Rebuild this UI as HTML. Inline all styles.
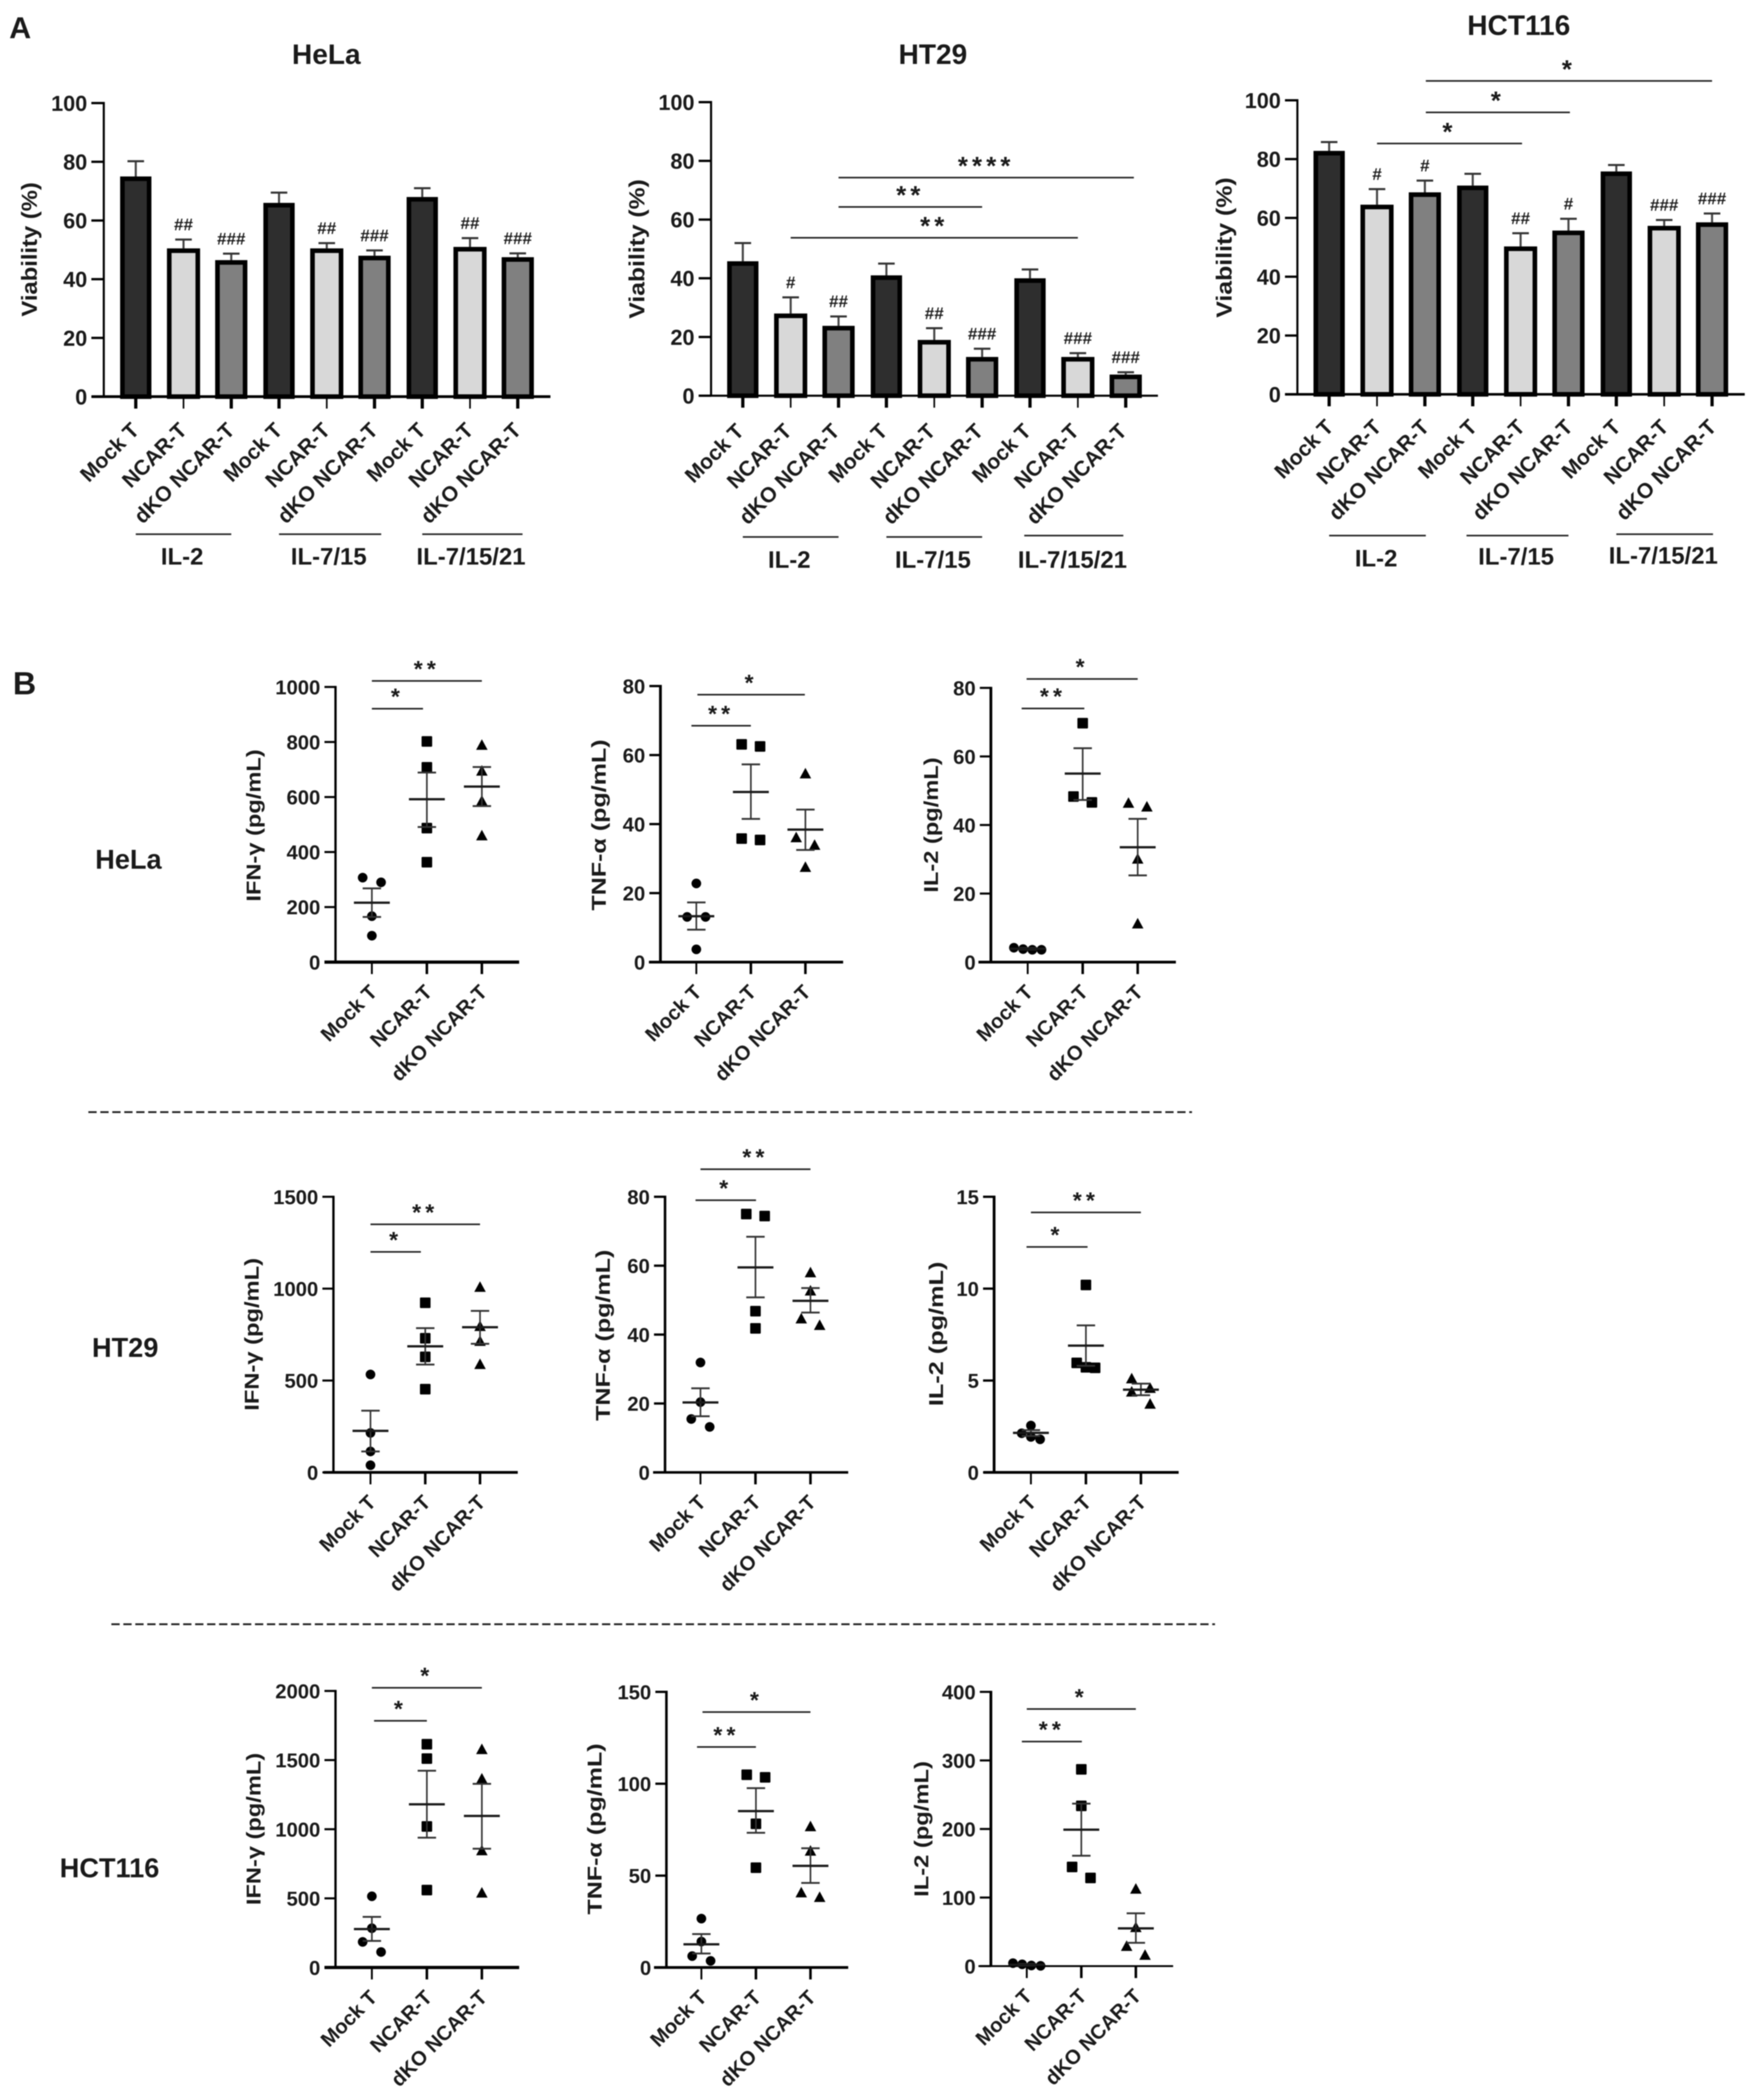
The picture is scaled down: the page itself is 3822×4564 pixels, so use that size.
<!DOCTYPE html>
<html lang="en">
<head>
<meta charset="utf-8">
<title>Viability and cytokine release of NCAR-T cells</title>
<style>
html,body{margin:0;padding:0;background:#fff;width:3822px;height:4564px;overflow:hidden}
svg{display:block;filter:blur(1px)}
text{font-family:"Liberation Sans",sans-serif;font-weight:bold;fill:#1a1a1a}
</style>
</head>
<body>
<svg id="figure" xmlns="http://www.w3.org/2000/svg" width="3822" height="4564" viewBox="0 0 3822 4564">
<rect width="3822" height="4564" fill="#fff"/>
<text x="20" y="83" font-size="66" fill="#000">A</text>
<text x="28" y="1509" font-size="70" fill="#000">B</text>
<text x="279" y="1888" font-size="59" text-anchor="middle">HeLa</text>
<text x="272" y="2949" font-size="59" text-anchor="middle">HT29</text>
<text x="238" y="4080" font-size="59" text-anchor="middle">HCT116</text>
<line x1="192" y1="2417" x2="2590" y2="2417" stroke="#222" stroke-width="4" stroke-dasharray="18 8"/>
<line x1="242" y1="3530" x2="2640" y2="3530" stroke="#222" stroke-width="4" stroke-dasharray="18 8"/>
</svg>
<script>
/* ---------- shared categories and ticks ---------- */
const barCategories = ['Mock T','NCAR-T','dKO NCAR-T','Mock T','NCAR-T','dKO NCAR-T','Mock T','NCAR-T','dKO NCAR-T'];
const scatterCategories = ['Mock T','NCAR-T','dKO NCAR-T'];
const cytokineGroups = ['IL-2','IL-7/15','IL-7/15/21'];
const viabilityTicks = [0,20,40,60,80,100];

/* ---------- panel A : viability ---------- */
const helaViability = [75,50.5,46.5,66,50.5,48,68,51,47.5];
const helaViabilityTop = [80.2,53.5,48.7,69.5,52.3,49.8,71,54,48.8];
const helaHash = ['','##','###','','##','###','','##','###'];
const helaGroupStart = [0,3,6];
const helaGroupEnd = [2,5.14,8.1];

const ht29Viability = [45.8,28,23.8,41,19,13.2,40,13.2,7.2];
const ht29ViabilityTop = [52,33.5,27,45,23,16,43,14.5,8];
const ht29Hash = ['','#','##','','##','###','','###','###'];
const ht29GroupStart = [0,3,5.88];
const ht29GroupEnd = [2,5,7.95];
const ht29BracketFrom = [2,2,1];
const ht29BracketTo = [8.17,5,7];
const ht29BracketLevel = [74.3,64.3,53.8];
const ht29BracketLabel = ['****','**','**'];

const hctViability = [82.8,64.5,68.7,71,50.3,55.7,75.8,57.3,58.5];
const hctViabilityTop = [85.8,69.8,72.7,75,54.8,59.7,78,59.3,61.5];
const hctHash = ['','#','#','','##','#','','###','###'];
const hctGroupStart = [0,2.87,6];
const hctGroupEnd = [2.02,5,8.02];
const hctBracketFrom = [2.02,2.02,1];
const hctBracketTo = [8,5.03,4.03];
const hctBracketLevel = [106.6,95.9,85.3];
const hctBracketLabel = ['*','*','*'];

/* ---------- panel B : HeLa row ---------- */
const helaIfnTicks = [0,200,400,600,800,1000];
const helaIfnMock = [307,290,167,96];
const helaIfnNcar = [802,708,487,363];
const helaIfnDko = [790,696,587,461];
const helaIfnMockSlots = [-1,1,0,0];
const helaIfnNcarSlots = [0,0,0,0];
const helaIfnDkoSlots = [0,0,0,0];
const helaIfnMean = [216,592,638];
const helaIfnSemHi = [268,689,709];
const helaIfnSemLo = [164,491,567];
const helaIfnBracketFrom = [0,0];
const helaIfnBracketTo = [2,0.93];
const helaIfnBracketLevel = [1022,921];
const helaIfnBracketLabel = ['**','*'];

const helaTnfTicks = [0,20,40,60,80];
const helaTnfMock = [22.8,13.1,13.1,3.7];
const helaTnfNcar = [63.1,62.5,35.8,35.4];
const helaTnfDko = [54.7,36.2,34,27.6];
const helaTnfMockSlots = [0,-1,1,0];
const helaTnfNcarSlots = [-1,1,-1,1];
const helaTnfDkoSlots = [0,-1,1,0];
const helaTnfMean = [13.3,49.3,38.4];
const helaTnfSemHi = [17.3,57.3,44.2];
const helaTnfSemLo = [9.4,41.5,32.5];
const helaTnfBracketFrom = [0.02,-0.09];
const helaTnfBracketTo = [1.99,1];
const helaTnfBracketLevel = [77.5,68.5];
const helaTnfBracketLabel = ['*','**'];

const helaIl2Ticks = [0,20,40,60,80];
const helaIl2Mock = [4.2,3.8,3.6,3.6];
const helaIl2Ncar = [69.7,48.3,46.6];
const helaIl2Dko = [46.5,45.4,30.2,11.3];
const helaIl2MockSlots = [-1.5,-0.5,0.5,1.5];
const helaIl2NcarSlots = [0,-1,1];
const helaIl2DkoSlots = [-1,1,0,0];
const helaIl2Mean = [3.9,55,33.5];
const helaIl2SemHi = [4.1,62.4,41.8];
const helaIl2SemLo = [3.7,47.3,25.3];
const helaIl2BracketFrom = [-0.02,-0.11];
const helaIl2BracketTo = [2,1.03];
const helaIl2BracketLevel = [82.6,74];
const helaIl2BracketLabel = ['*','**'];

/* ---------- panel B : HT29 row ---------- */
const ht29IfnTicks = [0,500,1000,1500];
const ht29IfnMock = [533,215,114,39];
const ht29IfnNcar = [923,730,629,453];
const ht29IfnDko = [1010,797,716,590];
const ht29IfnMockSlots = [0,0,0,0];
const ht29IfnNcarSlots = [0,0,0,0];
const ht29IfnDkoSlots = [0,0,0,0];
const ht29IfnMean = [226,686,790];
const ht29IfnSemHi = [336,785,879];
const ht29IfnSemLo = [114,587,700];
const ht29IfnBracketFrom = [0,0];
const ht29IfnBracketTo = [2,0.92];
const ht29IfnBracketLevel = [1350,1200];
const ht29IfnBracketLabel = ['**','*'];

const ht29TnfTicks = [0,20,40,60,80];
const ht29TnfMock = [31.9,20.4,15.5,13.2];
const ht29TnfNcar = [75,74.4,46.8,41.8];
const ht29TnfDko = [58.1,52.8,44.7,42.8];
const ht29TnfMockSlots = [0,0,-1,1];
const ht29TnfNcarSlots = [-1,1,0,0];
const ht29TnfDkoSlots = [0,0,-1,1];
const ht29TnfMean = [20.3,59.5,49.8];
const ht29TnfSemHi = [24.4,68.4,53.5];
const ht29TnfSemLo = [16.3,50.8,46.4];
const ht29TnfBracketFrom = [0,-0.09];
const ht29TnfBracketTo = [2,1.01];
const ht29TnfBracketLevel = [88,79];
const ht29TnfBracketLabel = ['**','*'];

const ht29Il2Ticks = [0,5,10,15];
const ht29Il2Mock = [2.55,2.13,1.93,1.8];
const ht29Il2Ncar = [10.2,5.96,5.72,5.69];
const ht29Il2Dko = [5.12,4.6,4.4,3.74];
const ht29Il2MockSlots = [0,-1,0,1];
const ht29Il2NcarSlots = [0,-1,0,1];
const ht29Il2DkoSlots = [-1,1,-1,1];
const ht29Il2Mean = [2.15,6.9,4.5];
const ht29Il2SemHi = [2.3,8,4.83];
const ht29Il2SemLo = [1.98,5.8,4.2];
const ht29Il2BracketFrom = [0,-0.08];
const ht29Il2BracketTo = [2,1.03];
const ht29Il2BracketLevel = [14.15,12.27];
const ht29Il2BracketLabel = ['**','*'];

/* ---------- panel B : HCT116 row ---------- */
const hctIfnTicks = [0,500,1000,1500,2000];
const hctIfnMock = [515,284,185,112];
const hctIfnNcar = [1615,1511,1020,560];
const hctIfnDko = [1580,1367,848,542];
const hctIfnMockSlots = [0,0,-1,1];
const hctIfnNcarSlots = [0,0,0,0];
const hctIfnDkoSlots = [0,0,0,0];
const hctIfnMean = [278,1180,1096];
const hctIfnSemHi = [366,1423,1328];
const hctIfnSemLo = [192,939,859];
const hctIfnBracketFrom = [0,0.04];
const hctIfnBracketTo = [2,1];
const hctIfnBracketLevel = [2023,1784];
const hctIfnBracketLabel = ['*','*'];

const hctTnfTicks = [0,50,100,150];
const hctTnfMock = [26.6,14.1,6.2,3.6];
const hctTnfNcar = [104.9,103.5,78.2,54.3];
const hctTnfDko = [76.9,63.6,40.9,38.4];
const hctTnfMockSlots = [0,0,-1,1];
const hctTnfNcarSlots = [-1,1,0,0];
const hctTnfDkoSlots = [0,0,-1,1];
const hctTnfMean = [12.6,85.1,55.3];
const hctTnfSemHi = [18.2,97.6,64.9];
const hctTnfSemLo = [7.6,73.3,46];
const hctTnfBracketFrom = [0.02,-0.08];
const hctTnfBracketTo = [2,1];
const hctTnfBracketLevel = [139,120];
const hctTnfBracketLabel = ['*','**'];

const hctIl2Ticks = [0,100,200,300,400];
const hctIl2Mock = [4.3,2.6,0.9,0.4];
const hctIl2Ncar = [287,233.7,144.6,128.6];
const hctIl2Dko = [113,57,29.5,16.5];
const hctIl2MockSlots = [-1.5,-0.5,0.5,1.5];
const hctIl2NcarSlots = [0,0,-1,1];
const hctIl2DkoSlots = [0,0,-1,1];
const hctIl2Mean = [2,199,55];
const hctIl2SemHi = [3,237,77];
const hctIl2SemLo = [1,161,34];
const hctIl2BracketFrom = [0,-0.09];
const hctIl2BracketTo = [2,1.01];
const hctIl2BracketLevel = [375,327.5];
const hctIl2BracketLabel = ['*','**'];

/* ---------- drawing helpers ---------- */
const NS = 'http://www.w3.org/2000/svg';
const root = document.getElementById('figure');
const barFills = ['#2e2e2e','#d8d8d8','#808080'];

function mk(parent, tag, attrs, txt) {
  const el = document.createElementNS(NS, tag);
  for (const k in attrs) el.setAttribute(k, attrs[k]);
  if (txt !== undefined) el.textContent = txt;
  parent.appendChild(el);
  return el;
}

function drawYAxis(g, f, yScale, ticks, tickLen, fontSize) {
  const axis = mk(g, 'line', {x1:f.axisX, x2:f.axisX, y1:yScale(f.yMax)-f.tickW/2, y2:f.y0, stroke:'#000','stroke-width':f.yW});
  
  
  ticks.forEach(function (t) {
    const tick = mk(g, 'line', {x1:f.axisX-tickLen, x2:f.axisX, y1:yScale(t), y2:yScale(t), stroke:'#000','stroke-width':f.tickW});
    
    
    const lab = mk(g, 'text', {x:f.axisX-tickLen-9, y:yScale(t)+fontSize*0.36, 'text-anchor':'end','font-size':fontSize}, String(t));
    
    
  });
  const xAxis = mk(g, 'line', {x1:f.xStart, x2:f.xEnd, y1:f.y0, y2:f.y0, stroke:'#000','stroke-width':f.xW});
  
  
  const title = mk(g, 'text', {x:f.labelX, y:f.labelY, 'text-anchor':'middle','font-size':fontSize, textLength:f.labelLen, lengthAdjust:'spacingAndGlyphs', transform:'rotate(-90 '+f.labelX+' '+f.labelY+')'}, f.label);
  
  
}

function drawBrackets(g, xScale, yScale, from, to, level, labels, fontSize, gap) {
  labels.forEach(function (s, i) {
    const y = yScale(level[i]);
    const x1 = xScale(from[i]);
    const x2 = xScale(to[i]);
    const line = mk(g, 'line', {x1:x1, x2:x2, y1:y, y2:y, stroke:'#222','stroke-width':3.5});
    
    
    const star = mk(g, 'text', {x:(x1+x2)/2, y:y-gap+fontSize*0.58, 'text-anchor':'middle','font-size':fontSize,'letter-spacing':9, fill:'#2a2a2a'}, s);
    
    
  });
}

function barChart(f, values, tops, hash, gStart, gEnd, bFrom, bTo, bLevel, bLabel) {
  const g = mk(root, 'g', {});
  
  
  const xScale = function (i) { return f.firstX + i*f.step; };
  const yScale = function (v) { return f.y0 - (f.y0-f.yTop)*v/f.yMax; };

  values.forEach(function (v, i) {
    const x = xScale(i);
    const w = i%3===0 ? 58 : i%3===1 ? 62 : 60;
    const stem = mk(g, 'line', {x1:x, x2:x, y1:yScale(v), y2:yScale(tops[i]), stroke:'#444','stroke-width':4.5});
    
    
    const cap = mk(g, 'line', {x1:x-18, x2:x+18, y1:yScale(tops[i]), y2:yScale(tops[i]), stroke:'#333','stroke-width':4.5});
    
    
    const bar = mk(g, 'rect', {x:x-w/2, y:yScale(v)+5, width:w, height:f.y0-yScale(v)-5, fill:barFills[i%3], stroke:'#000','stroke-width':10});
    
    
    const tick = mk(g, 'line', {x1:x, x2:x, y1:f.y0, y2:f.y0+26, stroke:'#000','stroke-width':i%3===1?3.5:7});
    
    
    const ax = x+f.catDx, ay = f.y0+f.catDy;
    const lab = mk(g, 'text', {x:ax, y:ay, 'text-anchor':'end','font-size':46, transform:'rotate(-45 '+ax+' '+ay+')'}, barCategories[i]);
    
    
    if (hash[i]) {
      const h = mk(g, 'text', {x:x, y:yScale(tops[i])-33+13, 'text-anchor':'middle','font-size':37, fill:'#3a3a3a'}, hash[i]);
      
      
    }
  });
  drawYAxis(g, f, yScale, viabilityTicks, 27, 47);
  cytokineGroups.forEach(function (name, i) {
    const x1 = xScale(gStart[i]);
    const x2 = xScale(gEnd[i]);
    const l = mk(g, 'line', {x1:x1, x2:x2, y1:f.groupY[i], y2:f.groupY[i], stroke:'#222','stroke-width':3.5});
    
    
    const t = mk(g, 'text', {x:(x1+x2)/2-3, y:f.groupLabelY[i], 'text-anchor':'middle','font-size':52}, name);
    
    
  });
  const title = mk(g, 'text', {x:f.titleX, y:f.titleY, 'text-anchor':'middle','font-size':61}, f.title);
  
  
  if (bLabel) drawBrackets(g, xScale, yScale, bFrom, bTo, bLevel, bLabel, 56, 39);
}

function marker(g, shape, x, y) {
  let el;
  if (shape === 0) el = mk(g, 'circle', {cx:x, cy:y, r:10.5, fill:'#000'});
  else if (shape === 1) el = mk(g, 'rect', {x:x-11.5, y:y-11.5, width:23, height:23, rx:2, fill:'#000'});
  else el = mk(g, 'polygon', {points:(x-12.5)+','+(y+11)+' '+(x+12.5)+','+(y+11)+' '+x+','+(y-12), fill:'#000'});
  return el;
}

function scatterChart(f, ticks, groups, slots, mean, hi, lo, bFrom, bTo, bLevel, bLabel) {
  const g = mk(root, 'g', {});
  
  
  const xScale = function (i) { return f.firstX + i*f.step; };
  const yScale = function (v) { return f.y0 - (f.y0-f.yTop)*v/f.yMax; };
  drawYAxis(g, f, yScale, ticks, 24, 44);
  scatterCategories.forEach(function (c, i) {
    const x = xScale(i);
    const tick = mk(g, 'line', {x1:x, x2:x, y1:f.y0, y2:f.y0+26, stroke:'#000','stroke-width':i===0?4:5.5});
    
    
    const ax = x+14, ay = f.y0+68;
    const lab = mk(g, 'text', {x:ax, y:ay, 'text-anchor':'end','font-size':44, transform:'rotate(-45 '+ax+' '+ay+')'}, c);
    
    
    groups[i].forEach(function (v, j) {
      const pt = marker(g, i, x + slots[i][j]*20, yScale(v));
      
      
    });
    const stem = mk(g, 'line', {x1:x, x2:x, y1:yScale(hi[i]), y2:yScale(lo[i]), stroke:'#333','stroke-width':3.5});
    
    
    const capHi = mk(g, 'line', {x1:x-20, x2:x+20, y1:yScale(hi[i]), y2:yScale(hi[i]), stroke:'#333','stroke-width':4});
    
    
    const capLo = mk(g, 'line', {x1:x-20, x2:x+20, y1:yScale(lo[i]), y2:yScale(lo[i]), stroke:'#333','stroke-width':4});
    
    
    const m = mk(g, 'line', {x1:x-39, x2:x+39, y1:yScale(mean[i]), y2:yScale(mean[i]), stroke:'#1a1a1a','stroke-width':5});
    
    
  });
  drawBrackets(g, xScale, yScale, bFrom, bTo, bLevel, bLabel, 50, 38);
}

/* ---------- panel A ---------- */
barChart({name:'hela-viability-chart',title:'HeLa',titleX:709,titleY:139,axisX:225.5,xStart:199,xEnd:1196,y0:862,yTop:224,yMax:100,firstX:295,step:103.75,catDx:10,catDy:76,yW:4.5,xW:6,tickW:5,label:'Viability (%)',labelX:80,labelY:542,labelLen:292,groupY:[1161,1161,1161],groupLabelY:[1227,1227,1227]},
  helaViability, helaViabilityTop, helaHash, helaGroupStart, helaGroupEnd);
barChart({name:'ht29-viability-chart',title:'HT29',titleX:2027,titleY:139,axisX:1545,xStart:1519,xEnd:2516,y0:860,yTop:222,yMax:100,firstX:1614,step:104,catDx:5,catDy:80,yW:4.5,xW:4.5,tickW:5,label:'Viability (%)',labelX:1400,labelY:541,labelLen:303,groupY:[1167,1167,1164],groupLabelY:[1234,1234,1234]},
  ht29Viability, ht29ViabilityTop, ht29Hash, ht29GroupStart, ht29GroupEnd, ht29BracketFrom, ht29BracketTo, ht29BracketLevel, ht29BracketLabel);
barChart({name:'hct116-viability-chart',title:'HCT116',titleX:3300,titleY:76,axisX:2819,xStart:2792,xEnd:3791,y0:857,yTop:218,yMax:100,firstX:2888,step:104,catDx:12,catDy:74,yW:4.5,xW:5.5,tickW:5,label:'Viability (%)',labelX:2676,labelY:538,labelLen:305,groupY:[1164,1164,1161],groupLabelY:[1231,1227,1225]},
  hctViability, hctViabilityTop, hctHash, hctGroupStart, hctGroupEnd, hctBracketFrom, hctBracketTo, hctBracketLevel, hctBracketLabel);

/* ---------- panel B ---------- */
scatterChart({name:'hela-ifn-chart',axisX:729,xStart:705,xEnd:1128,y0:2091,yTop:1493,yMax:1000,firstX:808,step:119.5,yW:5,xW:7,tickW:4.5,label:'IFN-γ (pg/mL)',labelX:566,labelY:1794,labelLen:331},
  helaIfnTicks,[helaIfnMock,helaIfnNcar,helaIfnDko],[helaIfnMockSlots,helaIfnNcarSlots,helaIfnDkoSlots],helaIfnMean,helaIfnSemHi,helaIfnSemLo,helaIfnBracketFrom,helaIfnBracketTo,helaIfnBracketLevel,helaIfnBracketLabel);
scatterChart({name:'hela-tnf-chart',axisX:1435,xStart:1410,xEnd:1832,y0:2091,yTop:1491,yMax:80,firstX:1513,step:118.5,yW:6,xW:6,tickW:5,label:'TNF-α (pg/mL)',labelX:1316,labelY:1793,labelLen:372},
  helaTnfTicks,[helaTnfMock,helaTnfNcar,helaTnfDko],[helaTnfMockSlots,helaTnfNcarSlots,helaTnfDkoSlots],helaTnfMean,helaTnfSemHi,helaTnfSemLo,helaTnfBracketFrom,helaTnfBracketTo,helaTnfBracketLevel,helaTnfBracketLabel);
scatterChart({name:'hela-il2-chart',axisX:2153,xStart:2126,xEnd:2555,y0:2091,yTop:1495,yMax:80,firstX:2233,step:119.5,yW:6,xW:6,tickW:4.5,label:'IL-2 (pg/mL)',labelX:2038,labelY:1793,labelLen:294},
  helaIl2Ticks,[helaIl2Mock,helaIl2Ncar,helaIl2Dko],[helaIl2MockSlots,helaIl2NcarSlots,helaIl2DkoSlots],helaIl2Mean,helaIl2SemHi,helaIl2SemLo,helaIl2BracketFrom,helaIl2BracketTo,helaIl2BracketLevel,helaIl2BracketLabel);

scatterChart({name:'ht29-ifn-chart',axisX:724.5,xStart:703,xEnd:1125,y0:3200,yTop:2601,yMax:1500,firstX:805,step:119,yW:5,xW:6,tickW:4.5,label:'IFN-γ (pg/mL)',labelX:562,labelY:2900,labelLen:332},
  ht29IfnTicks,[ht29IfnMock,ht29IfnNcar,ht29IfnDko],[ht29IfnMockSlots,ht29IfnNcarSlots,ht29IfnDkoSlots],ht29IfnMean,ht29IfnSemHi,ht29IfnSemLo,ht29IfnBracketFrom,ht29IfnBracketTo,ht29IfnBracketLevel,ht29IfnBracketLabel);
scatterChart({name:'ht29-tnf-chart',axisX:1445,xStart:1419,xEnd:1843,y0:3200,yTop:2601,yMax:80,firstX:1522,step:119.5,yW:5.5,xW:5.5,tickW:5,label:'TNF-α (pg/mL)',labelX:1325,labelY:2902,labelLen:372},
  ht29TnfTicks,[ht29TnfMock,ht29TnfNcar,ht29TnfDko],[ht29TnfMockSlots,ht29TnfNcarSlots,ht29TnfDkoSlots],ht29TnfMean,ht29TnfSemHi,ht29TnfSemLo,ht29TnfBracketFrom,ht29TnfBracketTo,ht29TnfBracketLevel,ht29TnfBracketLabel);
scatterChart({name:'ht29-il2-chart',axisX:2160,xStart:2137,xEnd:2561,y0:3200,yTop:2601,yMax:15,firstX:2240,step:119.5,yW:6,xW:6,tickW:5,label:'IL-2 (pg/mL)',labelX:2049,labelY:2899,labelLen:314},
  ht29Il2Ticks,[ht29Il2Mock,ht29Il2Ncar,ht29Il2Dko],[ht29Il2MockSlots,ht29Il2NcarSlots,ht29Il2DkoSlots],ht29Il2Mean,ht29Il2SemHi,ht29Il2SemLo,ht29Il2BracketFrom,ht29Il2BracketTo,ht29Il2BracketLevel,ht29Il2BracketLabel);

scatterChart({name:'hct116-ifn-chart',axisX:729,xStart:705,xEnd:1128,y0:4276,yTop:3675,yMax:2000,firstX:808,step:119.5,yW:5,xW:7,tickW:4.5,label:'IFN-γ (pg/mL)',labelX:566,labelY:3975,labelLen:331},
  hctIfnTicks,[hctIfnMock,hctIfnNcar,hctIfnDko],[hctIfnMockSlots,hctIfnNcarSlots,hctIfnDkoSlots],hctIfnMean,hctIfnSemHi,hctIfnSemLo,hctIfnBracketFrom,hctIfnBracketTo,hctIfnBracketLevel,hctIfnBracketLabel);
scatterChart({name:'hct116-tnf-chart',axisX:1448,xStart:1421,xEnd:1843,y0:4276,yTop:3677,yMax:150,firstX:1524,step:118.5,yW:5.5,xW:6,tickW:5,label:'TNF-α (pg/mL)',labelX:1307,labelY:3975,labelLen:372},
  hctTnfTicks,[hctTnfMock,hctTnfNcar,hctTnfDko],[hctTnfMockSlots,hctTnfNcarSlots,hctTnfDkoSlots],hctTnfMean,hctTnfSemHi,hctTnfSemLo,hctTnfBracketFrom,hctTnfBracketTo,hctTnfBracketLevel,hctTnfBracketLabel);
scatterChart({name:'hct116-il2-chart',axisX:2153,xStart:2126,xEnd:2549,y0:4273,yTop:3677,yMax:400,firstX:2231,step:118.5,yW:6,xW:4,tickW:4.5,label:'IL-2 (pg/mL)',labelX:2017,labelY:3975,labelLen:295},
  hctIl2Ticks,[hctIl2Mock,hctIl2Ncar,hctIl2Dko],[hctIl2MockSlots,hctIl2NcarSlots,hctIl2DkoSlots],hctIl2Mean,hctIl2SemHi,hctIl2SemLo,hctIl2BracketFrom,hctIl2BracketTo,hctIl2BracketLevel,hctIl2BracketLabel);
</script>
</body>
</html>
